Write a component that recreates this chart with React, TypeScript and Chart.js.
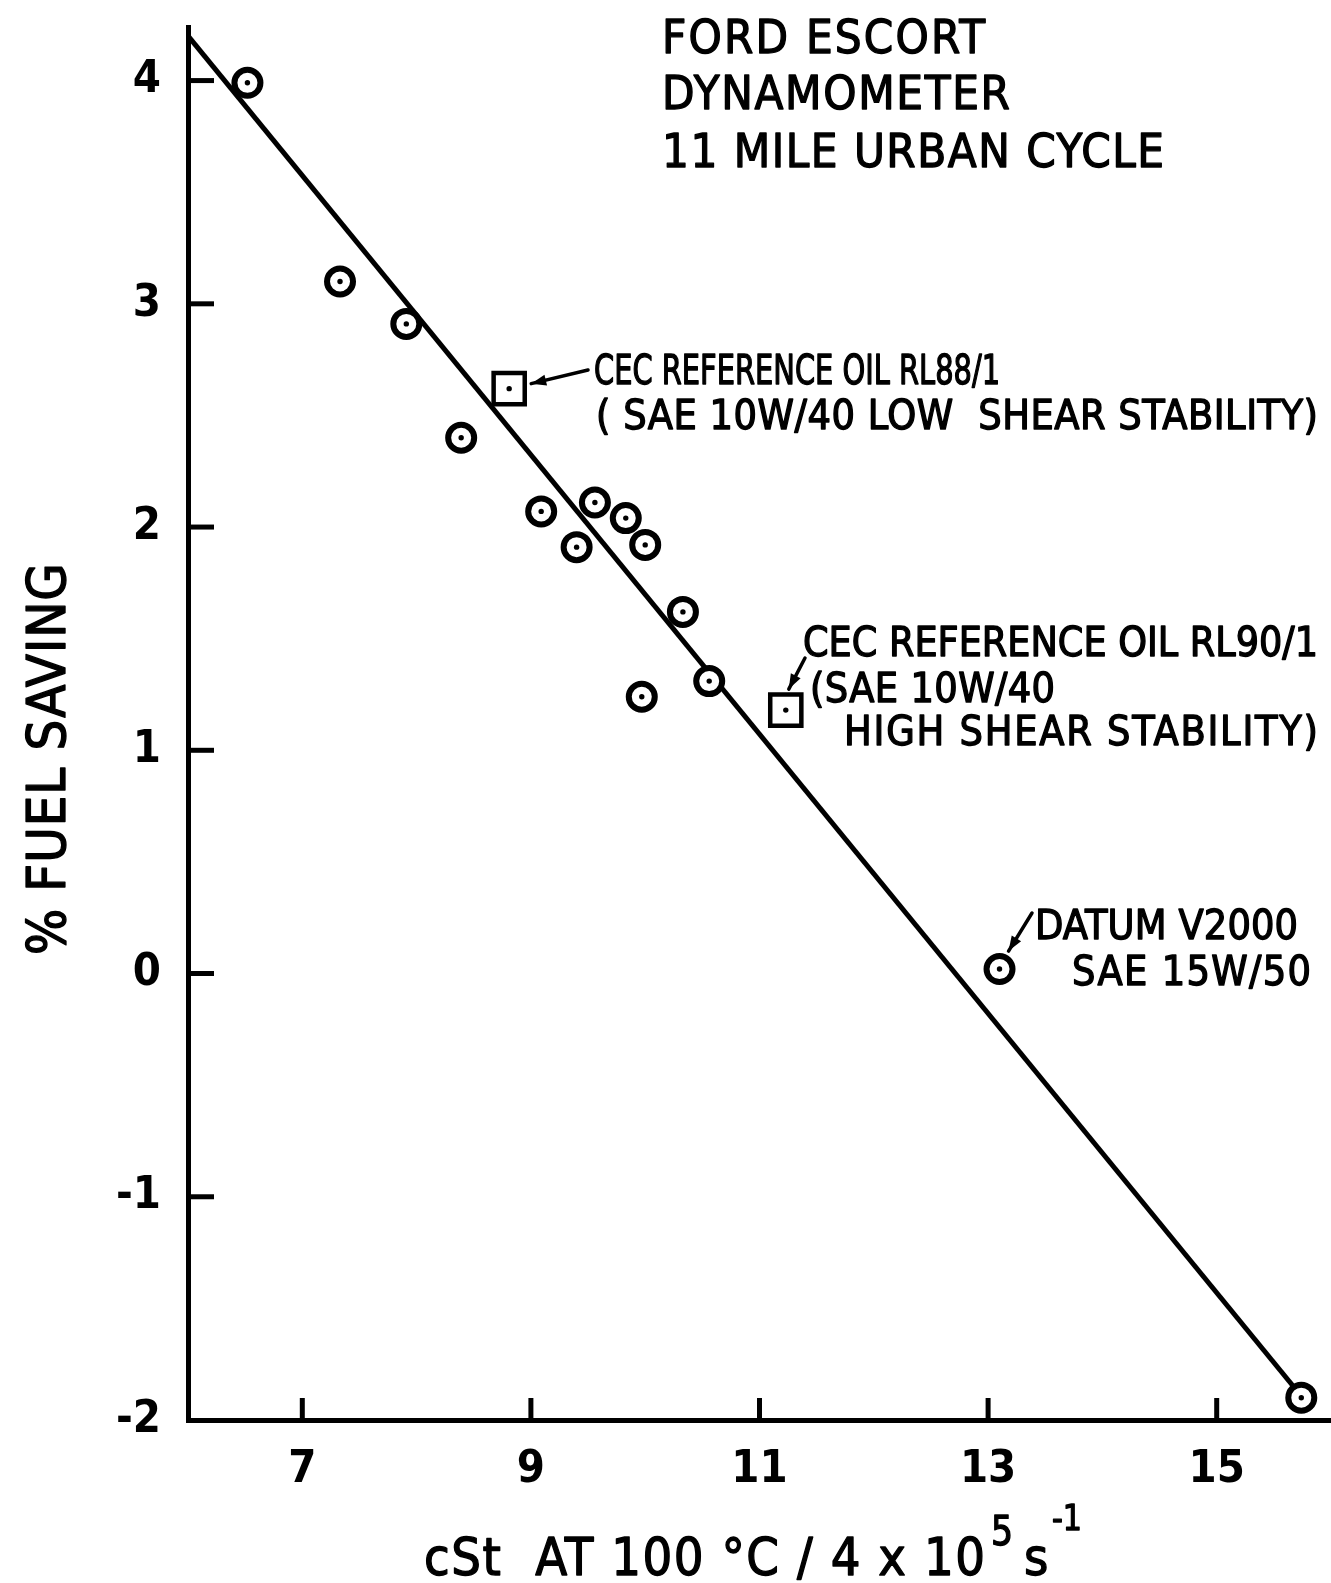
import React, { useEffect, useRef } from "react";
import { Chart, registerables } from "chart.js";

Chart.register(...registerables);

// ---- data ----
const circleX = [6.52, 7.33, 7.91, 8.39, 9.09, 9.40, 9.56, 9.83, 10.0, 10.33, 9.97, 10.56, 13.1, 15.74];
const circleY = [3.99, 3.10, 2.91, 2.40, 2.07, 1.91, 2.11, 2.04, 1.92, 1.62, 1.24, 1.31, 0.02, -1.9];
const squareX = [8.81, 11.23];
const squareY = [2.62, 1.18];
const fitX = [6.0, 15.72];
const fitY = [4.2, -1.88];
const xTicks = [7, 9, 11, 13, 15];
const yTicks = [-2, -1, 0, 1, 2, 3, 4];
const titleLines = ["FORD ESCORT", "DYNAMOMETER", "11 MILE URBAN CYCLE"];
const rl88Lines = ["CEC REFERENCE OIL RL88/1", "( SAE 10W/40 LOW  SHEAR STABILITY)"];
const rl90Lines = ["CEC REFERENCE OIL RL90/1", "(SAE 10W/40", "HIGH SHEAR STABILITY)"];
const datumLines = ["DATUM V2000", "SAE 15W/50"];
const yTitle = "% FUEL SAVING";
const xTitleMain = "cSt  AT 100 °C / 4 x 10";
const xTitleSup1 = "5";
const xTitleUnit = "s";
const xTitleSup2 = "-1";

const FONT = '"DejaVu Sans Condensed", "DejaVu Sans", sans-serif';

function fitText(ctx: CanvasRenderingContext2D, text: string, x: number, baseline: number, size: number, width: number) {
  ctx.font = `${size}px ${FONT}`;
  (ctx as any).letterSpacing = "0px";
  ctx.lineWidth = 1.3;
  ctx.strokeStyle = "#000";
  ctx.lineJoin = "round";
  const w = ctx.measureText(text).width;
  if (w < width && text.length > 1) {
    const sp = (width - w) / (text.length - 1);
    (ctx as any).letterSpacing = `${sp}px`;
    ctx.fillText(text, x, baseline);
    ctx.strokeText(text, x, baseline);
    (ctx as any).letterSpacing = "0px";
  } else {
    ctx.fillText(text, x, baseline, width);
    ctx.strokeText(text, x, baseline, width);
  }
}

function arrow(ctx: CanvasRenderingContext2D, x0: number, y0: number, x1: number, y1: number) {
  ctx.save();
  ctx.strokeStyle = "#000";
  ctx.fillStyle = "#000";
  ctx.lineWidth = 3.5;
  ctx.lineCap = "round";
  ctx.beginPath();
  ctx.moveTo(x0, y0);
  ctx.lineTo(x1, y1);
  ctx.stroke();
  const a = Math.atan2(y1 - y0, x1 - x0);
  const L = 15, H = 5.5;
  ctx.beginPath();
  ctx.moveTo(x1, y1);
  ctx.lineTo(x1 - L * Math.cos(a) + H * Math.sin(a), y1 - L * Math.sin(a) - H * Math.cos(a));
  ctx.lineTo(x1 - L * Math.cos(a) - H * Math.sin(a), y1 - L * Math.sin(a) + H * Math.cos(a));
  ctx.closePath();
  ctx.fill();
  ctx.restore();
}

const decorPlugin = {
  id: "decor",
  beforeDraw(chart: any) {
    const ctx = chart.ctx;
    ctx.save();
    ctx.fillStyle = "#fff";
    ctx.fillRect(0, 0, chart.width, chart.height);
    ctx.restore();
  },
  afterDraw(chart: any) {
    const ctx: CanvasRenderingContext2D = chart.ctx;
    const xs = chart.scales.x;
    const ys = chart.scales.y;
    const ca = chart.chartArea;
    ctx.save();
    // inner tick marks
    ctx.strokeStyle = "#000";
    ctx.lineWidth = 5;
    ctx.lineCap = "butt";
    xTicks.forEach((v) => {
      const px = xs.getPixelForValue(v);
      ctx.beginPath();
      ctx.moveTo(px, ca.bottom);
      ctx.lineTo(px, ca.bottom - 22);
      ctx.stroke();
    });
    yTicks.forEach((v) => {
      if (v === ys.min) return;
      const py = ys.getPixelForValue(v);
      ctx.beginPath();
      ctx.moveTo(ca.left, py);
      ctx.lineTo(ca.left + 26, py);
      ctx.stroke();
    });

    ctx.fillStyle = "#000";
    ctx.textAlign = "left";
    ctx.textBaseline = "alphabetic";
    // title
    const tW = [323, 348, 502];
    const tB = [53, 109, 167];
    titleLines.forEach((t, i) => fitText(ctx, t, 662, tB[i], 47, tW[i]));

    // RL88/1 annotation
    fitText(ctx, rl88Lines[0], 594, 384, 40, 406);
    fitText(ctx, rl88Lines[1], 596, 429, 41, 722);
    const sqA = { x: xs.getPixelForValue(squareX[0]), y: ys.getPixelForValue(squareY[0]) };
    arrow(ctx, 588, 370, sqA.x + 22, sqA.y - 5);

    // RL90/1 annotation
    fitText(ctx, rl90Lines[0], 803, 656, 41, 515);
    fitText(ctx, rl90Lines[1], 810, 702, 41, 245);
    fitText(ctx, rl90Lines[2], 844, 745, 41, 474);
    const sqB = { x: xs.getPixelForValue(squareX[1]), y: ys.getPixelForValue(squareY[1]) };
    arrow(ctx, 805, 658, sqB.x + 3, sqB.y - 21);

    // datum annotation
    fitText(ctx, datumLines[0], 1035, 939, 41, 263);
    fitText(ctx, datumLines[1], 1072, 985, 41, 239);
    const dat = { x: xs.getPixelForValue(circleX[12]), y: ys.getPixelForValue(circleY[12]) };
    arrow(ctx, 1032, 913, dat.x + 9, dat.y - 18);

    // y title
    ctx.save();
    ctx.translate(65, 955);
    ctx.rotate(-Math.PI / 2);
    fitText(ctx, yTitle, 0, 0, 54, 392);
    ctx.restore();

    // x title
    fitText(ctx, xTitleMain, 424, 1575, 52, 561);
    fitText(ctx, xTitleSup1, 991, 1545, 40, 22);
    fitText(ctx, xTitleUnit, 1024, 1575, 52, 26);
    fitText(ctx, xTitleSup2, 1052, 1530, 36, 30);
    ctx.restore();
  },
};

export default function App() {
  const ref = useRef<HTMLCanvasElement | null>(null);
  useEffect(() => {
    if (!ref.current) return;
    const circles = circleX.map((x, i) => ({ x, y: circleY[i] }));
    const squares = squareX.map((x, i) => ({ x, y: squareY[i] }));
    const fit = fitX.map((x, i) => ({ x, y: fitY[i] }));
    const tickFont = { family: FONT, size: 45, weight: "bold" as const };
    const chart = new Chart(ref.current, {
      type: "scatter",
      data: {
        datasets: [
          {
            label: "centre dots",
            data: [...circles, ...squares],
            pointStyle: "circle",
            pointRadius: 2.7,
            pointBackgroundColor: "#000",
            pointBorderWidth: 0,
            clip: false,
          } as any,
          {
            label: "oils",
            data: circles,
            pointStyle: "circle",
            pointRadius: 13,
            pointBorderWidth: 6,
            pointBorderColor: "#000",
            pointBackgroundColor: "#fff",
            clip: false,
          },
          {
            label: "CEC reference oils",
            data: squares,
            pointStyle: "rect",
            pointRadius: 22,
            pointBorderWidth: 4.5,
            pointBorderColor: "#000",
            pointBackgroundColor: "#fff",
            clip: false,
          },
          {
            label: "fit",
            data: fit,
            showLine: true,
            borderColor: "#000",
            borderWidth: 5,
            pointRadius: 0,
            fill: false,
            clip: false,
          },
        ],
      },
      options: {
        responsive: false,
        animation: false,
        events: [],
        layout: { padding: { top: 27, right: 0, left: 0, bottom: 0 }, autoPadding: false } as any,
        plugins: { legend: { display: false }, tooltip: { enabled: false }, title: { display: false } },
        scales: {
          x: {
            type: "linear",
            min: 6,
            max: 16,
            afterBuildTicks: (s: any) => {
              s.ticks = xTicks.map((v) => ({ value: v }));
            },
            afterFit: (s: any) => {
              s.height = 163;
              s.paddingLeft = 0;
              s.paddingRight = 0;
            },
            grid: { display: true, drawOnChartArea: false, drawTicks: false },
            border: { display: true, width: 5, color: "#000" },
            ticks: { font: tickFont, color: "#000", padding: 23, maxRotation: 0, autoSkip: false },
          },
          y: {
            type: "linear",
            min: -2,
            max: 4.24,
            afterBuildTicks: (s: any) => {
              s.ticks = yTicks.map((v) => ({ value: v }));
            },
            afterFit: (s: any) => {
              s.width = 188;
              s.paddingTop = 0;
              s.paddingBottom = 0;
            },
            grid: { display: true, drawOnChartArea: false, drawTicks: false },
            border: { display: true, width: 5, color: "#000" },
            ticks: { font: tickFont, color: "#000", padding: 27, autoSkip: false },
          },
        },
      },
      plugins: [decorPlugin],
    });
    return () => chart.destroy();
  }, []);
  return (
    <div style={{ position: "absolute", left: 0, top: 0, width: 1331, height: 1583, overflow: "hidden", background: "#fff" }}>
      <canvas ref={ref} width={1331} height={1583} style={{ width: 1331, height: 1583, display: "block" }} />
    </div>
  );
}
